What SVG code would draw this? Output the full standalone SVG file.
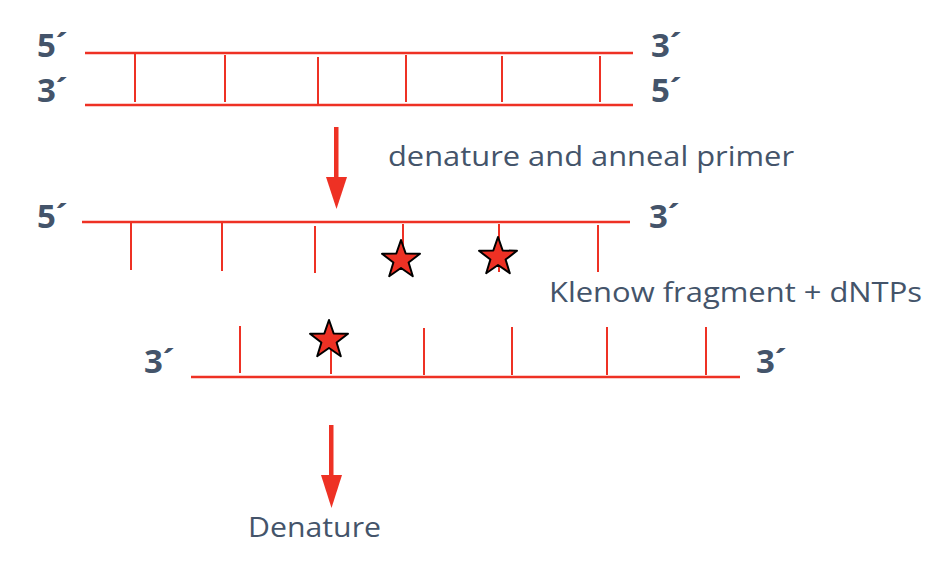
<svg xmlns="http://www.w3.org/2000/svg" width="940" height="562" viewBox="0 0 940 562">
<defs>
<style>
.s{stroke:#EE3124;stroke-width:2.4;fill:none}
.t{stroke:#EE3124;stroke-width:2;fill:none}
.end{font-family:"Open Sans","Liberation Sans",sans-serif;font-weight:bold;font-size:33px;fill:#44546A}
.lab{font-family:"Open Sans","Liberation Sans",sans-serif;font-size:28px;fill:#44546A}
.star{fill:#EE3124;stroke:#000;stroke-width:2;stroke-linejoin:round}
.arr{fill:#EE3124}
</style>
<polygon id="st" points="0,-20 4.7,-6.5 19,-6.2 7.6,2.5 11.8,16.2 0,8 -11.8,16.2 -7.6,2.5 -19,-6.2 -4.7,-6.5"/>
</defs>
<g id="duplex">
<line class="s" x1="85" y1="53" x2="633" y2="53"/>
<line class="s" x1="85" y1="105" x2="633" y2="105"/>
<line class="t" x1="135" y1="54" x2="135" y2="102"/>
<line class="t" x1="225" y1="55" x2="225" y2="102"/>
<line class="t" x1="318" y1="57" x2="318" y2="104"/>
<line class="t" x1="406" y1="55" x2="406" y2="102"/>
<line class="t" x1="502" y1="56" x2="502" y2="102"/>
<line class="t" x1="600" y1="56" x2="600" y2="102"/>
<text class="end" x="37" y="57">5´</text>
<text class="end" x="37" y="102">3´</text>
<text class="end" x="651" y="57">3´</text>
<text class="end" x="651" y="102">5´</text>
</g>
<g id="top-strand">
<line class="s" x1="82" y1="222" x2="630" y2="222"/>
<line class="t" x1="131" y1="223" x2="131" y2="270"/>
<line class="t" x1="222" y1="223" x2="222" y2="271"/>
<line class="t" x1="315" y1="226" x2="315" y2="273"/>
<line class="t" x1="403" y1="224" x2="403" y2="262"/>
<line class="t" x1="499" y1="224" x2="499" y2="272"/>
<line class="t" x1="598" y1="225" x2="598" y2="272"/>
<use href="#st" class="star" x="401" y="260"/>
<use href="#st" class="star" x="498" y="257"/>
<text class="end" x="37" y="228">5´</text>
<text class="end" x="649" y="228">3´</text>
</g>
<g id="new-strand">
<line class="s" x1="191" y1="377" x2="740" y2="377"/>
<line class="t" x1="240" y1="326" x2="240" y2="373"/>
<line class="t" x1="331" y1="345" x2="331" y2="374"/>
<line class="t" x1="424" y1="328" x2="424" y2="375"/>
<line class="t" x1="512" y1="327" x2="512" y2="375"/>
<line class="t" x1="607" y1="327" x2="607" y2="375"/>
<line class="t" x1="706" y1="327" x2="706" y2="375"/>
<use href="#st" class="star" x="329" y="340"/>
<text class="end" x="144" y="373">3´</text>
<text class="end" x="756" y="373">3´</text>
</g>
<g id="connectors">
<rect class="arr" x="334" y="127" width="4.5" height="52"/>
<polygon class="arr" points="326,177 347,177 336.5,209"/>
<rect class="arr" x="329" y="425" width="4.5" height="52"/>
<polygon class="arr" points="321,475 342,475 331.5,508"/>
</g>
<g id="labels">
<text class="lab" x="388" y="166" textLength="406" lengthAdjust="spacingAndGlyphs">denature and anneal primer</text>
<text class="lab" x="549" y="302" textLength="373" lengthAdjust="spacingAndGlyphs">Klenow fragment + dNTPs</text>
<text class="lab" x="248" y="537" textLength="133" lengthAdjust="spacingAndGlyphs">Denature</text>
</g>
</svg>
